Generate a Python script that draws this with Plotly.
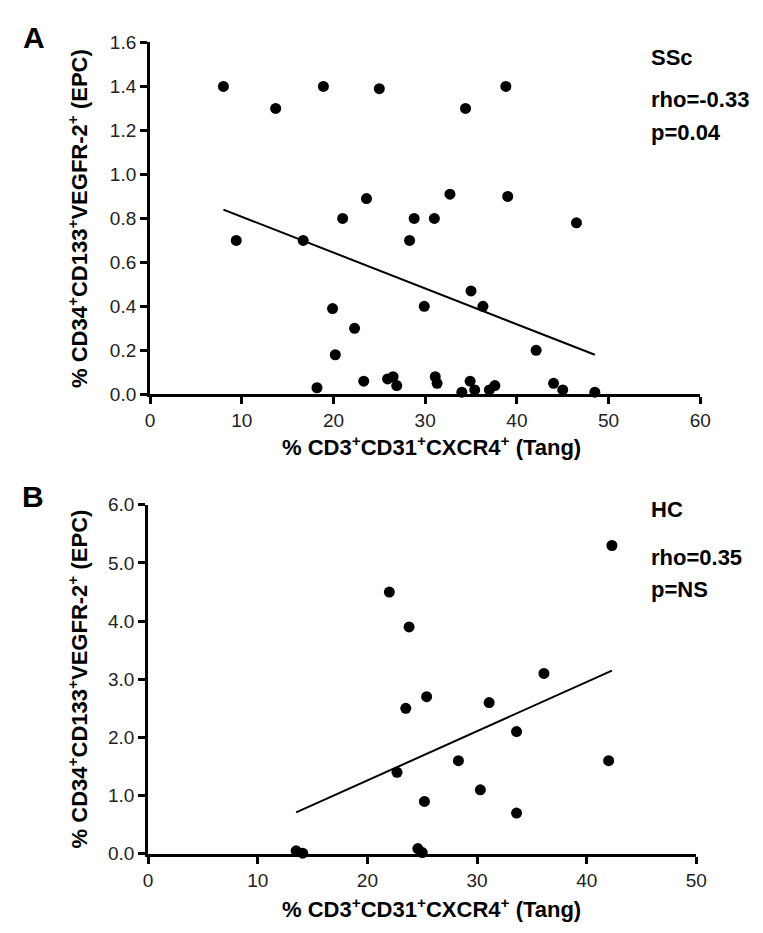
import plotly.graph_objects as go

# ---- Panel A: SSc ----
ssc_x = [8.0, 9.4, 13.7, 16.7, 18.2, 18.9, 19.9, 20.2, 21.0, 22.3, 23.3, 23.6, 25.0,
         25.9, 26.5, 26.9, 28.3, 28.8, 29.9, 31.0, 31.1, 31.3, 32.7, 34.0, 34.4, 34.9,
         35.0, 35.4, 36.3, 37.0, 37.6, 38.8, 39.0, 42.1, 44.0, 45.0, 46.5, 48.5]
ssc_y = [1.40, 0.70, 1.30, 0.70, 0.03, 1.40, 0.39, 0.18, 0.80, 0.30, 0.06, 0.89, 1.39,
         0.07, 0.08, 0.04, 0.70, 0.80, 0.40, 0.80, 0.08, 0.05, 0.91, 0.01, 1.30, 0.06,
         0.47, 0.02, 0.40, 0.02, 0.04, 1.40, 0.90, 0.20, 0.05, 0.02, 0.78, 0.01]
ssc_trend_x = [8.0, 48.5]
ssc_trend_y = [0.84, 0.18]

# ---- Panel B: HC ----
hc_x = [13.5, 14.1, 22.0, 22.7, 23.5, 23.8, 24.6, 25.0, 25.2, 25.4, 28.3, 30.3, 31.1,
        33.6, 33.6, 36.1, 42.0, 42.3]
hc_y = [0.05, 0.01, 4.5, 1.4, 2.5, 3.9, 0.09, 0.02, 0.9, 2.7, 1.6, 1.1, 2.6,
        2.1, 0.7, 3.1, 1.6, 5.3]
hc_trend_x = [13.5, 42.3]
hc_trend_y = [0.71, 3.15]

x_title = "% CD3<sup>+</sup>CD31<sup>+</sup>CXCR4<sup>+</sup> (Tang)"
y_title = "% CD34<sup>+</sup>CD133<sup>+</sup>VEGFR-2<sup>+</sup> (EPC)"

W, H = 763, 933
FONT = "Arial, Liberation Sans, sans-serif"

def px_x(p):
    return p / W

def px_y(p):
    return 1 - p / H

fig = go.Figure()

marker = dict(color="black", size=11)
fig.add_trace(go.Scatter(x=ssc_x, y=ssc_y, mode="markers", marker=marker,
                         cliponaxis=False, xaxis="x", yaxis="y", showlegend=False))
fig.add_trace(go.Scatter(x=ssc_trend_x, y=ssc_trend_y, mode="lines",
                         line=dict(color="black", width=2), xaxis="x", yaxis="y",
                         showlegend=False))
fig.add_trace(go.Scatter(x=hc_x, y=hc_y, mode="markers", marker=marker,
                         cliponaxis=False, xaxis="x2", yaxis="y2", showlegend=False))
fig.add_trace(go.Scatter(x=hc_trend_x, y=hc_trend_y, mode="lines",
                         line=dict(color="black", width=2), xaxis="x2", yaxis="y2",
                         showlegend=False))

axis_common = dict(showline=True, linecolor="black", linewidth=3, ticks="outside",
                   ticklen=7, tickwidth=3, tickcolor="black", showgrid=False,
                   zeroline=False, mirror=False,
                   tickfont=dict(family=FONT, size=19, color="#222222"))

fig.update_layout(
    width=W, height=H,
    margin=dict(l=0, r=0, t=0, b=0),
    paper_bgcolor="white", plot_bgcolor="white",
    xaxis=dict(domain=[px_x(140), px_x(702)], range=[0, 60], dtick=10,
               anchor="y", **axis_common),
    yaxis=dict(domain=[px_y(385), px_y(25)], range=[0, 1.6], dtick=0.2,
               tickformat=".1f", anchor="x", **axis_common),
    xaxis2=dict(domain=[px_x(138), px_x(698)], range=[0, 50], dtick=10,
                anchor="y2", **axis_common),
    yaxis2=dict(domain=[px_y(855), px_y(498)], range=[0, 6], dtick=1,
                tickformat=".1f", anchor="x2", **axis_common),
)

bold = lambda s: dict(family=FONT, size=s, color="black")
ann = []
# panel letters
ann.append(dict(text="<b>A</b>", x=px_x(21), y=px_y(20), font=bold(30)))
ann.append(dict(text="<b>B</b>", x=px_x(20), y=px_y(490), font=bold(30)))
# axis titles
ann.append(dict(text="<b>" + x_title + "</b>", x=px_x(427), y=px_y(438), font=bold(22)))
ann.append(dict(text="<b>" + x_title + "</b>", x=px_x(427), y=px_y(911), font=bold(22)))
ann.append(dict(text="<b>" + y_title + "</b>", x=px_x(67), y=px_y(205), font=bold(22),
                textangle=-90))
ann.append(dict(text="<b>" + y_title + "</b>", x=px_x(66), y=px_y(676), font=bold(22),
                textangle=-90))
# stats text
for txt, yy in [("SSc", 40), ("rho=-0.33", 83), ("p=0.04", 117),
                ("HC", 503), ("rho=0.35", 552), ("p=NS", 585)]:
    ann.append(dict(text="<b>" + txt + "</b>", x=px_x(650), y=px_y(yy), font=bold(22),
                    xanchor="left"))

for a in ann:
    a.setdefault("xanchor", "center")
    a.update(xref="paper", yref="paper", yanchor="middle", showarrow=False)
fig.update_layout(annotations=ann)

fig.write_html("out.html")
